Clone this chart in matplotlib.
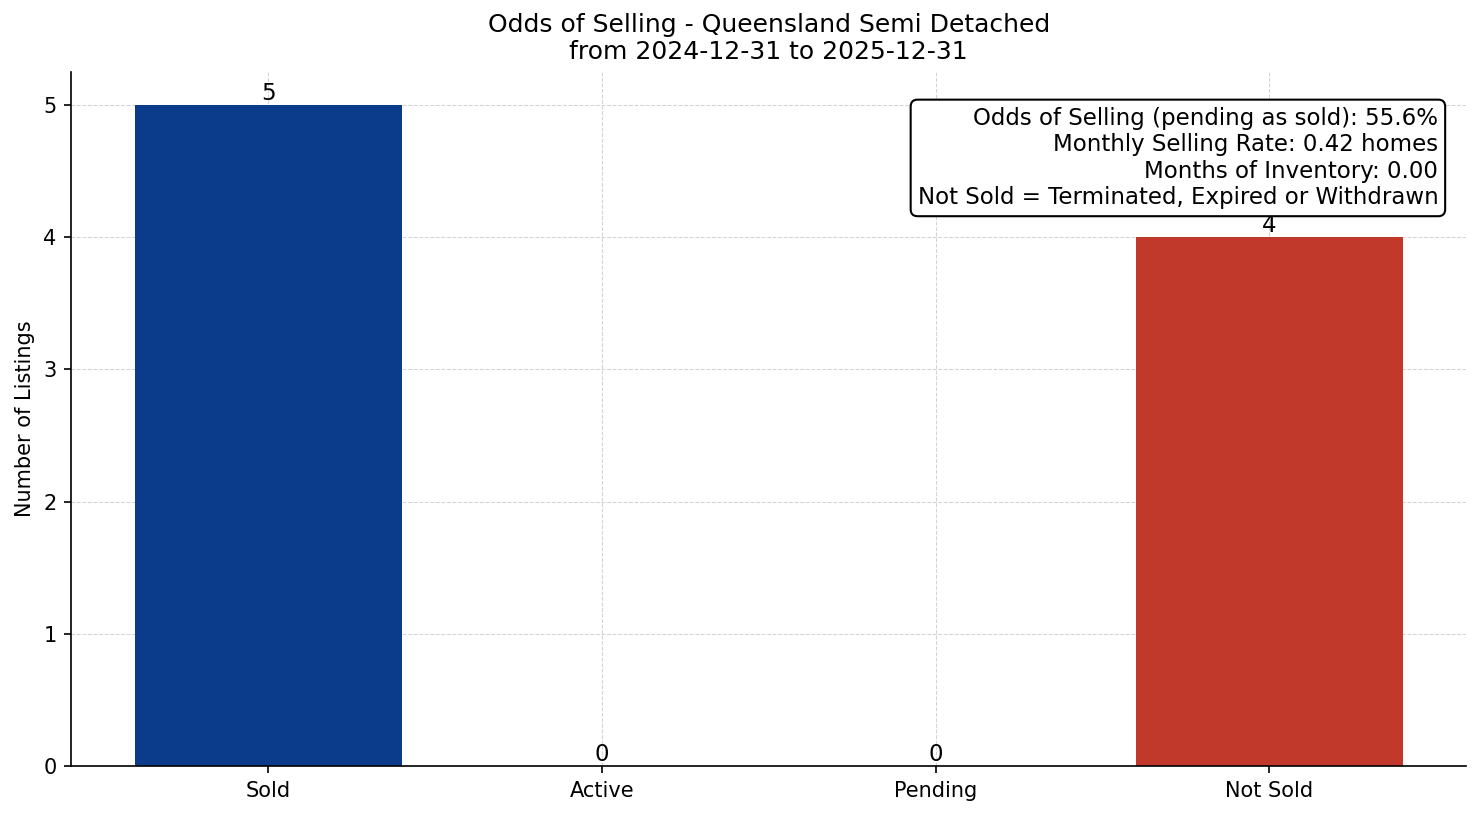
import matplotlib
matplotlib.use("Agg")
import matplotlib.pyplot as plt

# data
categories = ["Sold", "Active", "Pending", "Not Sold"]
counts = [5, 0, 0, 4]
bar_colors = ["#0b3c8c", "#1f77b4", "#f39c12", "#c0392b"]

odds_selling = 55.6
monthly_rate = 0.42
months_inventory = 0.00

fig, ax = plt.subplots(figsize=(1481 / 150, 816 / 150), dpi=150)

bars = ax.bar(categories, counts, color=bar_colors, width=0.8, zorder=2)
for bar, c in zip(bars, counts):
    ax.text(bar.get_x() + bar.get_width() / 2, bar.get_height(), str(c),
            ha="center", va="bottom", fontsize=11)

ax.set_title("Odds of Selling - Queensland Semi Detached\nfrom 2024-12-31 to 2025-12-31",
             fontsize=12)
ax.set_ylabel("Number of Listings", fontsize=10)
ax.tick_params(labelsize=10)
ax.grid(True, linestyle="--", linewidth=0.5, color="#d3d3d3", zorder=0)
ax.set_axisbelow(True)
ax.spines["top"].set_visible(False)
ax.spines["right"].set_visible(False)

info = (f"Odds of Selling (pending as sold): {odds_selling:.1f}%\n"
        f"Monthly Selling Rate: {monthly_rate:.2f} homes\n"
        f"Months of Inventory: {months_inventory:.2f}\n"
        "Not Sold = Terminated, Expired or Withdrawn")
ax.text(0.98, 0.95, info, transform=ax.transAxes, ha="right", va="top",
        fontsize=11,
        bbox=dict(boxstyle="round,pad=0.3", facecolor="white", edgecolor="black"))

fig.subplots_adjust(left=0.048, right=0.99, top=0.912, bottom=0.061)
plt.savefig("out.png", dpi=150)
